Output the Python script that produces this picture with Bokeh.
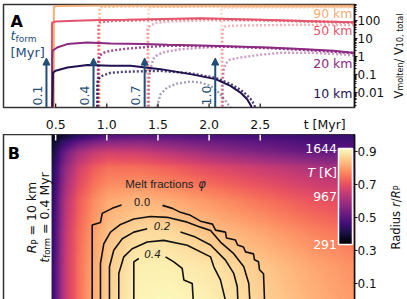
import numpy as np
from bokeh.plotting import figure
from bokeh.layouts import column, row
from bokeh.models import (Range1d, FixedTicker, Label, Arrow, NormalHead, ColorBar,
                          LinearColorMapper)
from bokeh.palettes import Magma256
from bokeh.embed import file_html
from bokeh.resources import INLINE

# ------------------------------------------------------------------ data
xtick_vals = [0.5, 1.0, 1.5, 2.0, 2.5]
xtick_labels = ["0.5", "1.0", "1.5", "2.0", "2.5"]
xlabel_pos = 3.13
xlabel_text = "t [Myr]"
vtick_vals = [0.01, 0.1, 1, 10, 100]
vtick_labels = ["0.01", "0.1", "1", "10", "100"]
rtick_vals = [0.1, 0.3, 0.5, 0.7, 0.9]
rtick_labels = ["0.1", "0.3", "0.5", "0.7", "0.9"]

radius_labels = ["90 km", "50 km", "20 km", "10 km"]
tform_labels = ["0.1", "0.4", "0.7", "1.0"]
arrow_t = [0.41, 0.87, 1.37, 2.06]

# 10 km
t10_01 = [0.469, 0.474, 0.499, 0.616, 0.811, 1.036, 1.232, 1.525, 1.818, 2.063, 2.209, 2.307, 2.372, 2.411, 2.414]
v10_01 = [0.001, 0.123, 0.158, 0.240, 0.327, 0.299, 0.299, 0.196, 0.104, 0.055, 0.0234, 0.0100, 0.0043, 0.0018, 0.001]
t10_04 = [0.906, 0.906, 0.919, 0.955, 1.036, 1.163, 1.329, 1.525, 1.818, 2.063, 2.229, 2.336, 2.405, 2.444, 2.454]
v10_04 = [0.001, 0.0343, 0.057, 0.0837, 0.123, 0.139, 0.148, 0.158, 0.115, 0.065, 0.0266, 0.0109, 0.0045, 0.0021, 0.001]
t10_07 = [1.493, 1.496, 1.525, 1.590, 1.688, 1.818, 1.916, 2.014, 2.095, 2.160, 2.209, 2.219]
v10_07 = [0.001, 0.0021, 0.0082, 0.0189, 0.0314, 0.0405, 0.0357, 0.0234, 0.0100, 0.0035, 0.0015, 0.001]
# 20 km
t20_01 = [0.466, 0.466, 0.469, 0.515, 0.613, 0.808, 1.036, 1.359, 1.593, 2.014, 2.568, 2.893, 3.216, 3.5]
v20_01 = [0.001, 0.564, 2.01, 3.06, 4.72, 5.79, 5.09, 4.72, 4.32, 3.80, 3.06, 2.50, 2.01, 1.40]
t20_04 = [0.914, 0.914, 0.929, 0.968, 1.036, 1.183, 1.359, 1.574, 1.818, 2.209, 2.600, 2.991, 3.5]
v20_04 = [0.001, 0.438, 1.07, 1.56, 2.01, 2.60, 3.14, 3.80, 3.80, 3.35, 2.77, 2.14, 1.42]
t20_07 = [1.408, 1.413, 1.427, 1.456, 1.496, 1.574, 1.720, 1.916, 2.111, 2.502, 2.893, 3.5]
v20_07 = [0.001, 0.0443, 0.204, 0.728, 1.21, 1.77, 2.44, 2.95, 3.35, 3.14, 2.44, 1.40]
t20_10 = [2.131, 2.131, 2.141, 2.160, 2.199, 2.307, 2.502, 2.698, 2.991, 3.284, 3.5]
v20_10 = [0.001, 0.0234, 0.158, 0.385, 0.641, 0.859, 1.21, 1.56, 1.56, 1.29, 1.0]
# 50 km
t50_01 = [0.464, 0.464, 0.499, 0.694, 0.938, 1.183, 1.427, 1.916, 2.600, 3.089, 3.5]
v50_01 = [0.001, 71.0, 82.6, 91.5, 100, 104, 111, 126, 100, 83.7, 73.0]
t50_04 = [0.919, 0.919, 0.938, 1.036, 1.329, 1.916, 2.600, 3.5]
v50_04 = [0.001, 62.5, 75.6, 88.1, 97.5, 118, 97.5, 71.0]
t50_07 = [1.398, 1.398, 1.427, 1.486, 1.623, 2.014, 2.600, 3.5]
v50_07 = [0.001, 33.1, 51.6, 71.0, 83.7, 97.5, 91.5, 66.6]
t50_10 = [2.131, 2.131, 2.151, 2.209, 2.502, 2.893, 3.5]
v50_10 = [0.001, 25.6, 42.6, 48.4, 51.6, 55.0, 51.6]
# 90 km
t90_01 = [0.482, 0.482, 0.508, 1.0, 2.0, 3.0, 3.5]
v90_01 = [0.001, 543, 600, 625, 630, 620, 615]
t90_04 = [0.929, 0.929, 0.958, 2.0, 3.5]
v90_04 = [0.001, 478, 543, 570, 578]
t90_07 = [1.408, 1.408, 1.447, 2.5, 3.5]
v90_07 = [0.001, 478, 543, 550, 543]
t90_10 = [2.121, 2.121, 2.151, 3.5]
v90_10 = [0.001, 421, 478, 510]

# panel B: temperature field estimates (K), rows = radius, columns = time
t_grid = [0.46, 0.5, 0.6, 0.7, 0.85, 1.0, 1.3, 1.6, 2.0, 2.5, 3.0, 3.5]
r_grid = [0.0, 0.2, 0.4, 0.6, 0.8, 0.9, 1.0]
T_r00 = [521, 697, 1035, 1211, 1400, 1509, 1617, 1630, 1603, 1522, 1428, 1346]
T_r02 = [521, 697, 1035, 1211, 1387, 1495, 1603, 1603, 1576, 1495, 1400, 1319]
T_r04 = [508, 683, 1022, 1197, 1360, 1468, 1549, 1549, 1482, 1400, 1306, 1225]
T_r06 = [494, 656, 981, 1157, 1306, 1400, 1441, 1414, 1346, 1252, 1157, 1089]
T_r08 = [467, 589, 859, 1035, 1170, 1238, 1238, 1197, 1116, 1035, 954, 886]
T_r09 = [426, 521, 738, 886, 995, 1049, 1035, 968, 873, 778, 697, 656]
T_r10 = [345, 372, 426, 494, 562, 629, 656, 643, 616, 589, 562, 548]
T_low, T_high = 291, 1644
cbar_labels = ["291", "967", "1644"]

# melt-fraction contours (t [Myr], r/R_P)
c00_t_a = [0.857, 0.857, 0.938, 0.955, 1.053, 1.144]
c00_r_a = [0.0, 0.455, 0.470, 0.525, 0.555, 0.576]
c00_t_b = [1.544, 1.642, 1.720, 1.818, 1.916, 2.033, 2.063, 2.160, 2.170, 2.258, 2.278, 2.336, 2.356, 2.434, 2.444, 2.483, 2.493, 2.532, 2.542]
c00_r_b = [0.573, 0.555, 0.531, 0.513, 0.478, 0.460, 0.424, 0.412, 0.376, 0.364, 0.334, 0.322, 0.293, 0.281, 0.245, 0.233, 0.185, 0.161, 0.0]
c01_t = [0.938, 0.938, 0.971, 1.036, 1.134, 1.264, 1.427, 1.590, 1.786, 1.916, 2.014, 2.111, 2.241, 2.339, 2.388, 2.398]
c01_r = [0.0, 0.223, 0.342, 0.412, 0.458, 0.491, 0.506, 0.501, 0.472, 0.442, 0.422, 0.352, 0.282, 0.203, 0.103, 0.0]
c02_t_a = [1.026, 1.026, 1.068, 1.151, 1.264, 1.395]
c02_r_a = [0.0, 0.203, 0.303, 0.372, 0.412, 0.432]
c02_t_b = [1.720, 1.867, 2.014, 2.160, 2.241, 2.275, 2.281]
c02_r_b = [0.412, 0.382, 0.334, 0.243, 0.163, 0.084, 0.0]
c03_t = [1.117, 1.117, 1.166, 1.248, 1.395, 1.557, 1.786, 2.014, 2.046, 2.111, 2.160]
c03_r = [0.0, 0.163, 0.263, 0.312, 0.352, 0.362, 0.333, 0.263, 0.203, 0.124, 0.0]
c04_t_a = [1.264, 1.264, 1.313]
c04_r_a = [0.0, 0.233, 0.253]
c04_t_b = [1.574, 1.655, 1.737, 1.753, 1.835, 1.845]
c04_r_b = [0.263, 0.233, 0.193, 0.124, 0.103, 0.0]
clabel_text = ["0.0", "0.2", "0.4"]
clabel_t = [1.344, 1.541, 1.447]
clabel_r = [0.591, 0.448, 0.281]

# ------------------------------------------------------------------ style
FW, FHA, FHB, LW, RB = 351, 103, 166, 20, 30
T_MIN, T_MAX = -0.0098, 3.4213
V_MIN, V_MAX = 0.0015, 720
FONT = "DejaVu Sans"
TICK_FS = "12px"
C10, C20, C50, C90 = "#221150", "#8c2981", "#e5546a", "#f5ad78"
BLUE = "#1f4e79"
INK = "#111111"
DOT = "2 2"

DJ = {' ': .318, '.': .318, ',': .318, '=': .838, '/': .337, '[': .39, ']': .39,
      'M': .863, 'V': .684, 'R': .695, 'P': .603, 'T': .611, 'K': .656,
      'a': .613, 'c': .55, 'd': .635, 'e': .615, 'f': .352, 'i': .278, 'k': .579,
      'l': .278, 'm': .974, 'n': .634, 'o': .612, 'r': .411, 's': .521, 't': .392,
      'u': .634, 'y': .592}
for _d in "0123456789":
    DJ[_d] = .636


def tw(s, size):
    return sum(DJ.get(ch, .6) for ch in s) * size


def rich(p, segs, x, y, xu="screen", yu="screen", angle=0.0, color=INK,
         align="left", font=FONT):
    total = sum(tw(s, sz) for s, sz, st, sh in segs)
    adv = {"left": 0, "center": -total / 2, "right": -total}[align]
    for s, sz, st, sh in segs:
        lead = len(s) - len(s.lstrip(" "))
        adv += lead * DJ[' '] * sz
        core = s.strip(" ")
        if angle == 0:
            xo, yo = adv, sh
        else:
            xo, yo = -sh, adv
        p.add_layout(Label(x=x, y=y, x_units=xu, y_units=yu, x_offset=xo, y_offset=yo,
                           text=core, text_font=font, text_font_size=f"{sz}px",
                           text_font_style=st, text_color=color, text_align="left",
                           text_baseline="alphabetic", angle=angle))
        adv += tw(core, sz) + (len(s) - lead - len(core)) * DJ[' '] * sz


def lab(p, text, x, y, size=12.5, color=INK, align="left", baseline="middle",
        style="normal", xu="screen", yu="screen", angle=0.0, xo=0, font=FONT):
    p.add_layout(Label(x=x, y=y, x_units=xu, y_units=yu, x_offset=xo, text=text,
                       text_font=font, text_font_size=f"{size}px", text_color=color,
                       text_align=align, text_baseline=baseline, text_font_style=style,
                       angle=angle))


def style_right_axis(ax):
    ax.major_tick_in, ax.major_tick_out = 0, 3
    ax.axis_line_width = 1.5
    ax.axis_line_color = INK
    ax.major_tick_line_color = INK
    ax.major_label_standoff = 0
    ax.major_label_text_font = FONT
    ax.major_label_text_font_size = TICK_FS
    ax.major_label_text_color = INK


def side_fig(fh, top, bottom):
    f = figure(frame_width=LW, frame_height=fh, x_range=Range1d(0, 1), y_range=Range1d(0, 1),
               x_axis_location=None, y_axis_location=None, output_backend="svg",
               toolbar_location=None, min_border_left=0, min_border_right=0,
               min_border_top=top, min_border_bottom=bottom)
    f.grid.visible = False
    f.outline_line_color = None
    return f


# ------------------------------------------------------------------ panel A
pa = figure(frame_width=FW, frame_height=FHA, x_range=Range1d(T_MIN, T_MAX),
            y_range=Range1d(V_MIN, V_MAX), y_axis_type="log", y_axis_location="right",
            output_backend="svg", toolbar_location=None, min_border_left=3,
            min_border_top=4, min_border_right=RB, min_border_bottom=21)
pa.grid.visible = False
pa.outline_line_color = "#333333"
pa.outline_line_width = 1.5

xa = pa.xaxis[0]
xa.ticker = FixedTicker(ticks=xtick_vals + [xlabel_pos])
ov = dict(zip(xtick_vals, xtick_labels))
ov[xlabel_pos] = xlabel_text
xa.major_label_overrides = ov
xa.major_tick_line_color = None
xa.minor_tick_line_color = None
xa.axis_line_color = None
xa.major_label_standoff = 3
xa.major_label_text_font = FONT
xa.major_label_text_font_size = "12.5px"
xa.major_label_text_color = INK

ya = pa.yaxis[0]
minor = [m * 10.0 ** k for k in range(-3, 3) for m in range(2, 10)]
ya.ticker = FixedTicker(ticks=vtick_vals, minor_ticks=minor)
ya.major_label_overrides = dict(zip(vtick_vals, vtick_labels))
ya.minor_tick_in, ya.minor_tick_out = 0, 2
ya.minor_tick_line_color = INK
style_right_axis(ya)

series = [
    (t90_10, v90_10, C90, DOT, 0.45), (t90_07, v90_07, C90, DOT, 0.5),
    (t90_04, v90_04, C90, DOT, 0.8), (t90_01, v90_01, C90, "solid", 1.0),
    (t50_10, v50_10, C50, DOT, 0.45), (t50_07, v50_07, C50, DOT, 0.5),
    (t50_04, v50_04, C50, DOT, 0.85), (t50_01, v50_01, C50, "solid", 1.0),
    (t20_10, v20_10, C20, DOT, 0.45), (t20_07, v20_07, C20, DOT, 0.5),
    (t20_04, v20_04, C20, DOT, 0.85), (t20_01, v20_01, C20, "solid", 1.0),
    (t10_07, v10_07, C10, DOT, 0.4), (t10_04, v10_04, C10, DOT, 0.8),
    (t10_01, v10_01, C10, "solid", 1.0),
]
for t, v, c, dash, a in series:
    pa.line(t, v, line_color=c, line_width=2.0 if dash == "solid" else 2.4,
            line_dash=dash, line_alpha=a)

# inward tick marks at the bottom of panel A
pa.ray(x=xtick_vals, y=[V_MIN] * len(xtick_vals), length=4, length_units="screen",
       angle=np.pi / 2, line_color="#222222", line_width=1.3)

for t_arr, txt in zip(arrow_t, tform_labels):
    pa.add_layout(Arrow(end=NormalHead(size=7, fill_color=BLUE, line_color=BLUE, line_width=1),
                        x_start=t_arr, y_start=V_MIN, x_end=t_arr, y_end=0.8,
                        line_color=BLUE, line_width=2))
    lab(pa, txt, t_arr, 12, xu="data", xo=-9, color=BLUE, angle=np.pi / 2,
        align="center", baseline="middle", size=12.5)

lab(pa, "A", 7, 86.3, size=16, style="bold", baseline="alphabetic", color="#000000")
rich(pa, [("t", 13, "italic", 0), ("form", 9, "normal", -3)], 7, 72, color=BLUE)
lab(pa, "[Myr]", 7, 55, size=13, color=BLUE, baseline="alphabetic")

for txt, yy, c in zip(radius_labels, [93.7, 77, 44.5, 14.5], [C90, C50, C20, C10]):
    lab(pa, txt, FW - 2, yy, size=12.5, color=c, align="right", baseline="middle")

fa = side_fig(FHA, 4, 21)
rich(fa, [("V", 11.5, "normal", 0), ("molten", 8, "normal", -1.3), ("/", 11.5, "normal", 0),
          (" V", 11.5, "normal", 0), ("10, total", 8, "normal", -1.3)],
     11.8, FHA / 2, angle=np.pi / 2, align="center")

# ------------------------------------------------------------------ panel B
pb = figure(frame_width=FW, frame_height=FHB, x_range=pa.x_range, y_range=Range1d(0, 1),
            x_axis_location=None, y_axis_location="right", output_backend="svg",
            toolbar_location=None, min_border_left=3, min_border_top=0,
            min_border_right=RB, min_border_bottom=1)
pb.grid.visible = False
pb.outline_line_color = "#333333"
pb.outline_line_width = 1.5

yb = pb.yaxis[0]
yb.ticker = FixedTicker(ticks=rtick_vals)
yb.major_label_overrides = dict(zip(rtick_vals, rtick_labels))
yb.minor_tick_line_color = None
style_right_axis(yb)

# temperature field image (bilinear upsampling of the estimated grid for display)
T_grid = np.array([T_r00, T_r02, T_r04, T_r06, T_r08, T_r09, T_r10], dtype=float)
ts = np.linspace(t_grid[0], t_grid[-1], 330)
rs = np.linspace(r_grid[0], r_grid[-1], 180)
tmp = np.array([np.interp(ts, t_grid, row_) for row_ in T_grid])
img = np.array([np.interp(rs, r_grid, tmp[:, j]) for j in range(len(ts))]).T

mapper = LinearColorMapper(palette=Magma256, low=T_low, high=T_high)
pb.image(image=[img], x=t_grid[0], y=r_grid[0], dw=t_grid[-1] - t_grid[0],
         dh=r_grid[-1] - r_grid[0], color_mapper=mapper)

# white inward tick marks at the top of panel B
pb.ray(x=xtick_vals, y=[1.0] * len(xtick_vals), length=6, length_units="screen",
       angle=-np.pi / 2, line_color="white", line_width=1.5)

for ct, cr in [(c00_t_a, c00_r_a), (c00_t_b, c00_r_b), (c01_t, c01_r),
               (c02_t_a, c02_r_a), (c02_t_b, c02_r_b), (c03_t, c03_r),
               (c04_t_a, c04_r_a), (c04_t_b, c04_r_b)]:
    pb.line(ct, cr, line_color=INK, line_width=1.6)

for txt, ct, cr, st in zip(clabel_text, clabel_t, clabel_r, ["normal", "italic", "italic"]):
    lab(pb, txt, ct, cr, xu="data", yu="data", size=10.5, align="center",
        baseline="middle", style=st, color="#222222")

lab(pb, "Melt fractions", 1.18, 0.70, xu="data", yu="data", size=11.5,
    baseline="alphabetic", font="Liberation Sans", color="#222222")
lab(pb, "φ", 1.18, 0.70, xu="data", yu="data", size=11.5, baseline="alphabetic",
    style="italic", xo=73, color="#222222")

cb = ColorBar(color_mapper=mapper, location=(335, 56), width=14, height=96,
              padding=0, ticker=FixedTicker(ticks=[]),
              major_tick_line_color=None, minor_tick_line_color=None,
              bar_line_color="white", bar_line_width=1.5,
              background_fill_alpha=0, border_line_color=None)
pb.add_layout(cb, "center")
for txt, yy in zip(cbar_labels, [56, 104, 152]):
    lab(pb, txt, 333.5, yy, size=12.5, color="white", align="right", baseline="middle")
rich(pb, [("T", 12.5, "italic", 0), (" [K]", 12.5, "normal", 0)], 333.5, 128,
     align="right", color="white")

lab(pb, "B", 4.3, 147.3, size=16, style="bold", baseline="alphabetic", color="#000000")
rich(pb, [("R", 12.5, "italic", 0), ("P", 8.5, "normal", -3), (" = 10 km", 12.5, "normal", 0)],
     28, FHB / 2, angle=np.pi / 2, align="center")
rich(pb, [("t", 12.5, "italic", 0), ("form", 8.5, "normal", -3), (" = 0.4 Myr", 12.5, "normal", 0)],
     40.5, FHB / 2, angle=np.pi / 2, align="center")

fb = side_fig(FHB, 0, 1)
rich(fb, [("Radius ", 11.5, "normal", 0), ("r", 11.5, "italic", 0), ("/", 11.5, "normal", 0),
          ("R", 11.5, "italic", 0), ("P", 8, "normal", -1.3)],
     11.8, FHB / 2, angle=np.pi / 2, align="center")

layout = column(row(pa, fa), row(pb, fb))
open("out.html", "w").write(file_html(layout, INLINE))
